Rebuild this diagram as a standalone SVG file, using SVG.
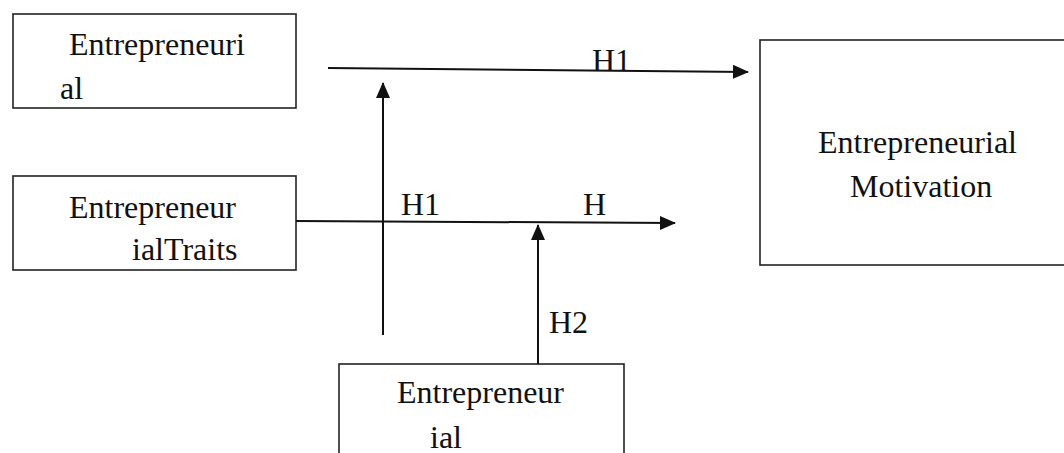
<svg xmlns="http://www.w3.org/2000/svg" width="1064" height="453" viewBox="0 0 1064 453">
<style>
.box{fill:#fff;stroke:#222;stroke-width:1.6}
.t{font-family:"Liberation Serif","Times New Roman",serif;font-size:32px;fill:#111}
.c{stroke:#111;stroke-width:2;fill:none}
</style>
<defs>
<marker id="ah" viewBox="0 0 16 16" refX="15" refY="8" markerWidth="16" markerHeight="16" markerUnits="userSpaceOnUse" orient="auto">
<path d="M0,1 L16,8 L0,15 Z" fill="#111"/>
</marker>
</defs>
<rect width="1064" height="453" fill="#fff"/>
<g id="node-entrepreneurial-top">
<rect class="box" x="13" y="14" width="283" height="94"/>
<text class="t" x="69" y="55">Entrepreneuri</text>
<text class="t" x="60" y="99">al</text>
</g>
<g id="node-motivation">
<rect class="box" x="760" y="40" width="310" height="225"/>
<text class="t" x="818" y="153">Entrepreneurial</text>
<text class="t" x="850" y="197">Motivation</text>
</g>
<g id="node-traits">
<rect class="box" x="13" y="176" width="283" height="94"/>
<text class="t" x="69" y="218">Entrepreneur</text>
<text class="t" x="132" y="260">ialTraits</text>
</g>
<g id="node-entrepreneurial-bottom">
<rect class="box" x="339" y="364" width="285" height="100"/>
<text class="t" x="397" y="403">Entrepreneur</text>
<text class="t" x="430" y="448">ial</text>
</g>
<g id="connectors">
<line class="c" x1="328" y1="68" x2="748" y2="72" marker-end="url(#ah)"/>
<line class="c" x1="383" y1="335" x2="383" y2="83" marker-end="url(#ah)"/>
<line class="c" x1="296" y1="221" x2="675" y2="223" marker-end="url(#ah)"/>
<line class="c" x1="538" y1="364" x2="538" y2="225" marker-end="url(#ah)"/>
<text class="t" x="592" y="71">H1</text>
<text class="t" x="401" y="215">H1</text>
<text class="t" x="583" y="215">H</text>
<text class="t" x="549" y="333">H2</text>
</g>
</svg>
